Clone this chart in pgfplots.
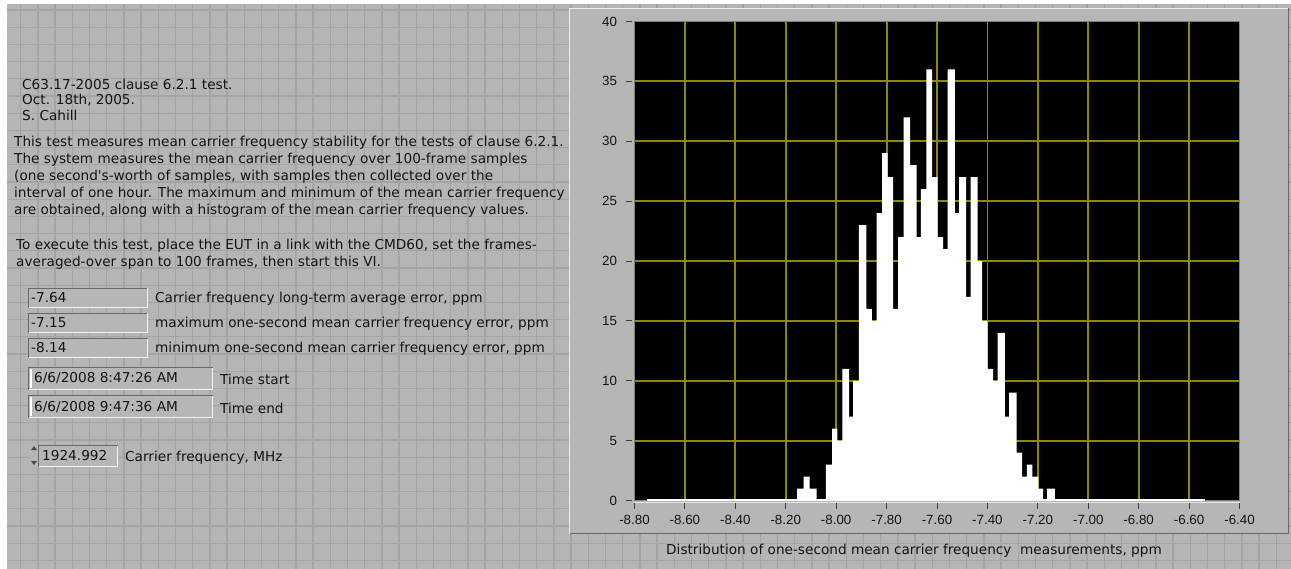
\documentclass[border=0pt]{standalone}
\usepackage{pgfplots}
\pgfplotsset{compat=1.18}
\usepackage{fontspec}
\setmainfont{DejaVu Sans}[Ligatures=TeXOff]
\newfontfamily\tickfont{Liberation Sans}
\definecolor{panel}{RGB}{181,181,181}
\definecolor{panelgrid}{RGB}{164,164,164}
\definecolor{framebg}{RGB}{182,182,182}
\definecolor{gridy}{RGB}{140,136,0}
\definecolor{darkedge}{RGB}{105,105,105}
\definecolor{txt}{RGB}{20,20,20}
\pgfplotstableread{
x y
-8.155 1
-8.129 2
-8.105 1
-8.078 0
-8.041 3
-8.016 6
-7.995 5
-7.975 11
-7.949 7
-7.933 10
-7.910 23
-7.880 16
-7.858 15
-7.840 24
-7.818 29
-7.796 27
-7.774 16
-7.754 22
-7.732 32
-7.707 28
-7.681 22
-7.664 26
-7.642 36
-7.619 27
-7.598 22
-7.576 21
-7.558 36
-7.529 24
-7.512 27
-7.485 17
-7.467 27
-7.439 20
-7.421 15
-7.399 11
-7.377 10
-7.360 14
-7.331 7
-7.314 9
-7.284 4
-7.262 2
-7.244 3
-7.222 2
-7.198 1
-7.179 0
-7.163 1
-7.132 0
}\histdata
\newcommand{\fs}{\fontsize{13.7}{15}\selectfont}
\newcommand{\tfs}{\tickfont\fontsize{13.4}{15}\selectfont}
\begin{document}
\begin{tikzpicture}
\begin{scope}[x=1bp,y=-1bp]
\useasboundingbox (0,0) rectangle (1291,569);
\fill[panel] (0,0) rectangle (1291,569);
\begin{scope}
\clip (0,0) rectangle (1291,569);
\foreach \i in {0,...,76} { \draw[panelgrid, line width=1.3bp] ({3.5+17.2*\i},0) -- ({3.5+17.2*\i},569); }
\foreach \j in {0,...,33} { \draw[panelgrid, line width=1.3bp] (0,{10+17.2*\j}) -- (1291,{10+17.2*\j}); }
\end{scope}
\fill[white] (0,0) rectangle (1291,4);
\fill[white] (0,0) rectangle (7,569);
% graph frame
\fill[framebg] (569,8) rectangle (1289,534);
\draw[white!85!gray,line width=1bp] (569.5,534) -- (569.5,8.5) -- (1289,8.5);
\draw[darkedge,line width=1bp] (569.5,533.5) -- (1288.5,533.5) -- (1288.5,8.5);
\draw[white!80!gray,line width=1bp] (634,502) -- (1240,502);
\end{scope}
\begin{axis}[
  at={(634.5bp,-500.5bp)}, anchor=south west,
  width=605bp, height=479bp, scale only axis,
  xmin=-8.8, xmax=-6.4, ymin=0, ymax=40,
  xtick={-8.8,-8.6,-8.4,-8.2,-8.0,-7.8,-7.6,-7.4,-7.2,-7.0,-6.8,-6.6,-6.4},
  ytick={0,5,10,15,20,25,30,35,40},
  xtick pos=left, ytick pos=left,
  axis background/.style={fill=black},
  grid=major, major grid style={gridy, line width=1.8bp},
  axis line style={draw=gray, line width=1bp},
  tick align=outside, major tick length=6bp,
  tick style={draw=black!75, line width=1bp},
  xtick style={yshift=-2.5bp}, ytick style={xshift=-3bp},
  /pgf/number format/assume math mode=true,
  xticklabel style={/pgf/number format/fixed, /pgf/number format/fixed zerofill, /pgf/number format/precision=2, yshift=-5.5bp},
  yticklabel style={xshift=-8bp},
  tick label style={font=\tfs, text=txt},
]
\addplot[ybar interval, fill=white, draw=none] table[x=x,y=y] {\histdata};
\addplot[white, line width=1.2bp] coordinates {(-8.752,0.05) (-6.535,0.05)};
\end{axis}
\begin{scope}[x=1bp,y=-1bp]
\node[anchor=center, font=\fs, text=txt] at (914,551) {Distribution of one-second mean carrier frequency\ \ measurements, ppm};
% left text
\begin{scope}[every node/.style={anchor=base west, font=\fs, text=txt, inner sep=0pt}]
\node at (22,89.5) {C63.17-2005 clause 6.2.1 test.};
\node at (22,105) {Oct. 18th, 2005.};
\node at (22,120.5) {S. Cahill};
\node at (14,146.5) {This test measures mean carrier frequency stability for the tests of clause 6.2.1.};
\node at (14,163.5) {The system measures the mean carrier frequency over 100-frame samples};
\node at (14,180.5) {(one second's-worth of samples, with samples then collected over the};
\node at (14,198) {interval of one hour. The maximum and minimum of the mean carrier frequency};
\node at (14,215) {are obtained, along with a histogram of the mean carrier frequency values.};
\node at (16,250) {To execute this test, place the EUT in a link with the CMD60, set the frames-};
\node at (16,267) {averaged-over span to 100 frames, then start this VI.};
\end{scope}
% indicator boxes
\foreach \yy/\val/\lab in {288/-7.64/{Carrier frequency long-term average error, ppm}, 313/-7.15/{maximum one-second mean carrier frequency error, ppm}, 338/-8.14/{minimum one-second mean carrier frequency error, ppm}}{
  \fill[framebg] (28,\yy) rectangle (148,\yy+20);
  \draw[darkedge,line width=1bp] (28.5,\yy+20) -- (28.5,\yy+0.5) -- (148,\yy+0.5);
  \draw[white!90!gray,line width=1bp] (28.5,\yy+19.5) -- (147.5,\yy+19.5) -- (147.5,\yy+0.5);
  \node[anchor=base west, font=\fs, text=txt, inner sep=0pt] at (31,\yy+14.5) {\val};
  \node[anchor=base west, font=\fs, text=txt, inner sep=0pt] at (155,\yy+14.5) {\lab};
}
\foreach \yy/\val/\lab in {367/{6/6/2008 8:47:26 AM}/Time start, 395/{6/6/2008 9:47:36 AM}/Time end}{
  \fill[framebg] (28,\yy) rectangle (213,\yy+23);
  \draw[darkedge,line width=1bp] (28.5,\yy+23) -- (28.5,\yy+0.5) -- (213,\yy+0.5);
  \draw[white!90!gray,line width=1bp] (28.5,\yy+22.5) -- (212.5,\yy+22.5) -- (212.5,\yy+0.5);
  \fill[white] (30,\yy+2) rectangle (32,\yy+21);
  \node[anchor=base west, font=\fs, text=txt, inner sep=0pt] at (34,\yy+16) {\val};
  \node[anchor=base west, font=\fs, text=txt, inner sep=0pt] at (220,\yy+18) {\lab};
}
% spin box
\fill[framebg] (30,445) rectangle (38,467);
\fill[black!70] (31,450) -- (37,450) -- (34,446) -- cycle;
\fill[black!70] (31,461) -- (37,461) -- (34,465) -- cycle;
\fill[framebg] (38,445) rectangle (118,467);
\draw[darkedge,line width=1bp] (38.5,467) -- (38.5,445.5) -- (118,445.5);
\draw[white!90!gray,line width=1bp] (38.5,466.5) -- (117.5,466.5) -- (117.5,445.5);
\node[anchor=base west, font=\fs, text=txt, inner sep=0pt] at (42,460.5) {1924.992};
\node[anchor=base west, font=\fs, text=txt, inner sep=0pt] at (125,461) {Carrier frequency, MHz};
\end{scope}
\end{tikzpicture}
\end{document}
